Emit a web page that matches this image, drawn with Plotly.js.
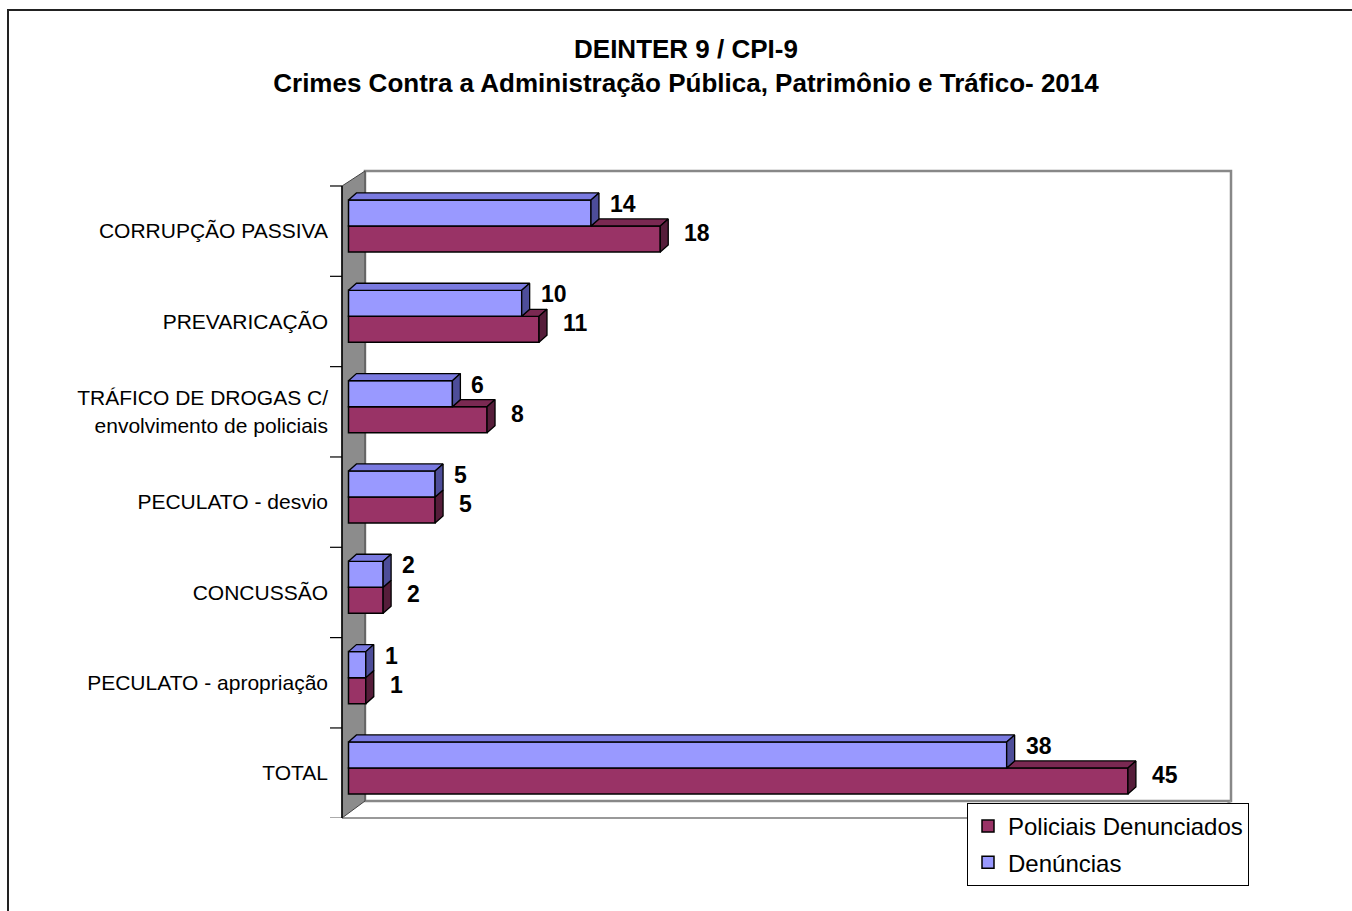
<!DOCTYPE html>
<html>
<head>
<meta charset="utf-8">
<script src="https://cdn.plot.ly/plotly-3.0.1.min.js"></script>
<style>
  html, body { margin: 0; padding: 0; background: #fff; }
  #chart { width: 1352px; height: 911px; }
</style>
</head>
<body>
<div id="chart"></div>
<script>
// ---------- data ----------
const categories = [
  'CORRUPÇÃO PASSIVA',
  'PREVARICAÇÃO',
  'TRÁFICO DE DROGAS C/<br>envolvimento de policiais',
  'PECULATO - desvio',
  'CONCUSSÃO',
  'PECULATO - apropriação',
  'TOTAL'
];
const denuncias = [14, 10, 6, 5, 2, 1, 38];
const policiais = [18, 11, 8, 5, 2, 1, 45];
const seriesNames = ['Policiais Denunciados', 'Denúncias'];

// ---------- style ----------
const FONT = 'Liberation Sans, Arial, sans-serif';
const BW = 0.288;      // bar thickness (category units)
const DX = 0.46;       // 3D depth along x (value units)
const DY = 0.078;      // 3D depth along y (category units)
const C_P = '#993366', C_P_TOP = '#7a2952', C_P_SIDE = '#561d3a';
const C_D = '#9999ff', C_D_TOP = '#7a7ae0', C_D_SIDE = '#4d4d99';

// plot area in pixels
const L = 342, R = 1231, T = 171, B = 818, W = 1352, H = 911;
const px = v => (v - L) / (R - L);
const py = v => (B - v) / (B - T);

const idx = categories.map((_, i) => i);

// ---------- 3D faces ----------
function faces() {
  const dTopX = [], dTopY = [], dSideX = [], dSideY = [];
  const pTopX = [], pTopY = [], pSideX = [], pSideY = [];
  idx.forEach(i => {
    const vb = denuncias[i], vp = policiais[i];
    const t = i - BW;
    dTopX.push(0, vb, vb + DX, DX, 0, null);
    dTopY.push(t, t, t - DY, t - DY, t, null);
    dSideX.push(vb, vb + DX, vb + DX, vb, vb, null);
    dSideY.push(t, t - DY, i - DY, i, t, null);
    if (vp > vb) {
      pTopX.push(vb, vp, vp + DX, vb + DX, vb, null);
      pTopY.push(i, i, i - DY, i - DY, i, null);
    }
    pSideX.push(vp, vp + DX, vp + DX, vp, vp, null);
    pSideY.push(i, i - DY, i + BW - DY, i + BW, i, null);
  });
  const mk = (x, y, c) => ({
    type: 'scatter', mode: 'lines', x, y, fill: 'toself', fillcolor: c,
    line: { color: '#000', width: 1.3 }, showlegend: false, hoverinfo: 'skip'
  });
  return [mk(pTopX, pTopY, C_P_TOP), mk(pSideX, pSideY, C_P_SIDE),
          mk(dTopX, dTopY, C_D_TOP), mk(dSideX, dSideY, C_D_SIDE)];
}

const traces = [
  {
    type: 'bar', orientation: 'h', name: seriesNames[0], legendgroup: 'p',
    x: policiais, y: idx, offset: 0, width: BW,
    marker: { color: C_P, line: { color: '#000', width: 1.5 } }, hoverinfo: 'skip'
  },
  {
    type: 'bar', orientation: 'h', name: seriesNames[1], legendgroup: 'd',
    x: denuncias, y: idx, offset: -BW, width: BW,
    marker: { color: C_D, line: { color: '#000', width: 1.5 } }, hoverinfo: 'skip'
  },
  ...faces()
];

// ---------- data labels ----------
const annotations = [];
idx.forEach(i => {
  annotations.push({
    x: denuncias[i], y: i - BW, xref: 'x', yref: 'y', text: String(denuncias[i]),
    showarrow: false, xanchor: 'left', yanchor: 'middle', xshift: 17, yshift: -4,
    font: { family: FONT, size: 23, color: '#000', weight: 700 }
  });
  annotations.push({
    x: policiais[i], y: i, xref: 'x', yref: 'y', text: String(policiais[i]),
    showarrow: false, xanchor: 'left', yanchor: 'middle', xshift: 22, yshift: -7,
    font: { family: FONT, size: 23, color: '#000', weight: 700 }
  });
});

// ---------- decorative shapes ----------
const shapes = [
  { type: 'path', xref: 'paper', yref: 'paper', layer: 'below',
    path: `M${px(8)},${py(930)} L${px(8)},${py(10)} L${px(1380)},${py(10)}`,
    line: { color: '#222', width: 2 } },
  { type: 'rect', xref: 'paper', yref: 'paper', layer: 'below',
    x0: px(365), x1: px(R), y0: py(801), y1: py(T),
    line: { color: '#888', width: 2.5 }, fillcolor: '#fff' },
  { type: 'path', xref: 'paper', yref: 'paper', layer: 'below',
    path: `M${px(L)},${py(B)} L${px(1208)},${py(B)} L${px(R)},${py(801)}`,
    line: { color: '#999', width: 2 } },
  { type: 'path', xref: 'paper', yref: 'paper', layer: 'below',
    path: `M${px(L)},${py(186)} L${px(365)},${py(T)} L${px(365)},${py(801)} L${px(L)},${py(B)} Z`,
    fillcolor: '#8c8c8c', line: { color: '#444', width: 1 } },
  { type: 'line', xref: 'paper', yref: 'paper', layer: 'below',
    x0: px(L), x1: px(L), y0: py(186), y1: py(B),
    line: { color: '#000', width: 1.5 } }
];
for (let k = 0; k <= categories.length; k++) {
  shapes.push({ type: 'line', xref: 'paper', yref: 'y', layer: 'below',
    x0: px(330), x1: px(L), y0: k - 0.443, y1: k - 0.443,
    line: { color: '#000', width: 1.2 } });
}

const layout = {
  width: W, height: H,
  margin: { l: L, r: W - R, t: T, b: H - B, pad: 0 },
  paper_bgcolor: '#fff', plot_bgcolor: 'rgba(0,0,0,0)',
  barmode: 'overlay',
  hovermode: false,
  title: {
    text: '<b>DEINTER 9 / CPI-9</b><br><b>Crimes Contra a Administração Pública, Patrimônio e Tráfico- 2014</b>',
    font: { family: FONT, size: 26, color: '#000' },
    x: 686 / W, xref: 'container', xanchor: 'center',
    y: 1 - 58 / H, yref: 'container', yanchor: 'middle'
  },
  xaxis: { range: [-0.375, 50.95], visible: false, fixedrange: true },
  yaxis: {
    range: [6.554, -0.609],
    tickvals: idx.map(i => i + 0.055), ticktext: categories,
    ticks: '', showgrid: false, zeroline: false, showline: false,
    tickfont: { family: FONT, size: 21, color: '#000' },
    ticklabelstandoff: 13, fixedrange: true
  },
  legend: {
    x: px(967), y: py(803), xanchor: 'left', yanchor: 'top',
    bgcolor: '#fff', bordercolor: '#000', borderwidth: 1,
    font: { family: FONT, size: 24, color: '#000' },
    traceorder: 'grouped', tracegroupgap: 2
  },
  shapes, annotations,
  showlegend: true
};

Plotly.newPlot('chart', traces, layout, { displayModeBar: false, staticPlot: true });
</script>
</body>
</html>
